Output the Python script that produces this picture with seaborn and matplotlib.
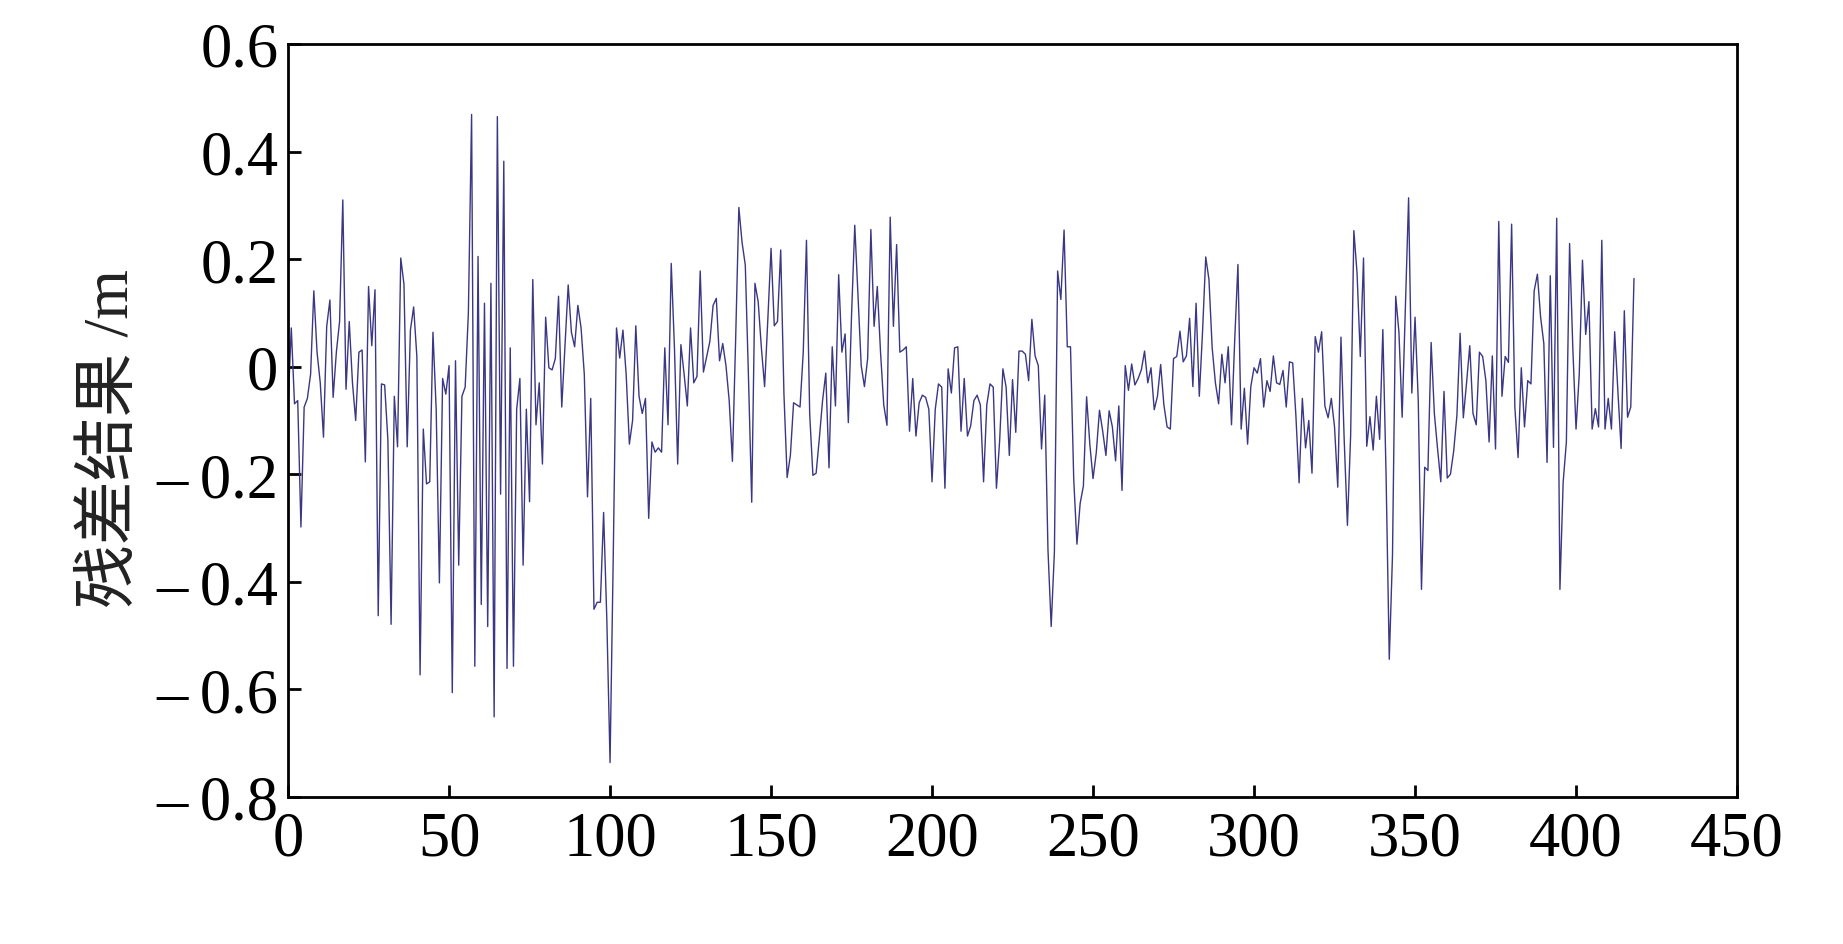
import numpy as np
import pandas as pd
import matplotlib
matplotlib.use("Agg")
import matplotlib.pyplot as plt
import seaborn as sns

# residual values (index 0..418)
residual_a = [
    -0.071, 0.072, -0.069, -0.063, -0.298, -0.075, -0.059, -0.014, 0.141, 0.027,
    -0.030, -0.131, 0.075, 0.124, -0.057, 0.027, 0.084, 0.310, -0.042, 0.084,
    -0.030, -0.100, 0.027, 0.031, -0.177, 0.149, 0.039, 0.143, -0.463, -0.032,
    -0.034, -0.136, -0.479, -0.055, -0.149, 0.202, 0.153,
]
residual_b = [
    -0.149, 0.068, 0.111, 0.019, -0.573, -0.116, -0.218, -0.214, 0.064, -0.079,
    -0.402, -0.022, -0.051, 0.002, -0.606, 0.011, -0.369, -0.055, -0.038, 0.100,
    0.469, -0.557, 0.205, -0.442, 0.118, -0.483, 0.155, -0.651, 0.465, -0.237,
    0.382, -0.561, 0.035, -0.557, -0.079, -0.022, -0.369, -0.079, -0.251,
]
residual_c = [
    0.162, -0.108, -0.030, -0.181, 0.092, -0.002, -0.006, 0.015, 0.131, -0.075,
    0.039, 0.152, 0.064, 0.037, 0.114, 0.072, -0.014, -0.242, -0.059, -0.451,
    -0.438, -0.438, -0.271, -0.471, -0.736, -0.349, 0.072, 0.016, 0.068, -0.014,
    -0.144, -0.100, 0.076, -0.055, -0.087, -0.059, -0.282,
]
residual_d = [
    -0.140, -0.159, -0.151, -0.159, 0.035, -0.108, 0.192, 0.035, -0.181, 0.041,
    -0.014, -0.073, 0.072, -0.030, -0.018, 0.178, -0.010, 0.019, 0.047, 0.114,
    0.127, 0.011, 0.043, 0.002, -0.063, -0.176, 0.050, 0.296, 0.231, 0.189,
    -0.022, -0.252, 0.155, 0.121, 0.035, -0.037, 0.088, 0.220,
]
residual_e = [
    0.076, 0.084, 0.217, -0.050, -0.206, -0.165, -0.067, -0.071, -0.075, 0.027,
    0.235, -0.088, -0.202, -0.198, -0.133, -0.063, -0.012, -0.188, 0.037, -0.073,
    0.171, 0.027, 0.061, -0.104, 0.096, 0.263, 0.132, 0.002, -0.037, 0.015,
    0.255, 0.075, 0.149, 0.027, -0.071, -0.109, 0.278, 0.075, 0.227,
]
residual_f = [
    0.027, 0.031, 0.037, -0.120, -0.022, -0.129, -0.067, -0.053, -0.057, -0.079,
    -0.214, -0.079, -0.032, -0.038, -0.226, -0.004, -0.049, 0.035, 0.037, -0.120,
    -0.022, -0.129, -0.110, -0.063, -0.053, -0.071, -0.214, -0.071, -0.032, -0.038,
    -0.226, -0.137, -0.004, -0.038, -0.165, -0.024, -0.122, 0.029,
]
residual_g = [
    0.029, 0.023, -0.026, 0.088, 0.020, 0.002, -0.153, -0.053, -0.340, -0.483,
    -0.344, 0.178, 0.125, 0.254, 0.037, 0.037, -0.209, -0.330, -0.254, -0.222,
    -0.056, -0.144, -0.208, -0.160, -0.081, -0.120, -0.165, -0.082, -0.112, -0.175,
    -0.073, -0.230, 0.002, -0.044, 0.005, -0.034, -0.022, -0.006, 0.029, -0.030,
]
residual_h = [
    -0.002, -0.080, -0.055, 0.004, -0.071, -0.112, -0.116, 0.015, 0.019, 0.066,
    0.009, 0.020, 0.090, -0.037, 0.118, -0.055, 0.064, 0.204, 0.162, 0.035,
    -0.030, -0.069, 0.023, -0.030, 0.037, -0.108, 0.050, 0.190, -0.116, -0.040,
    -0.144, -0.037, -0.002, -0.012, 0.015, -0.075, -0.026,
]
residual_i = [
    -0.046, 0.020, -0.030, -0.033, -0.007, -0.075, 0.009, 0.007, -0.091, -0.216,
    -0.059, -0.151, -0.100, -0.198, 0.056, 0.027, 0.065, -0.073, -0.095, -0.059,
    -0.112, -0.224, 0.055, -0.136, -0.295, -0.128, 0.253, 0.173, 0.019, 0.202,
    -0.148, -0.093, -0.155, -0.055, -0.135, 0.069, -0.200, -0.544,
]
residual_j = [
    -0.350, 0.131, 0.064, -0.094, 0.109, 0.314, -0.049, 0.092, -0.063, -0.414,
    -0.187, -0.193, 0.045, -0.087, -0.153, -0.214, -0.046, -0.207, -0.200, -0.157,
    -0.091, 0.062, -0.095, -0.030, 0.039, -0.087, -0.108, 0.027, 0.019, -0.026,
    -0.140, 0.020, -0.153, 0.270, -0.055, 0.019, 0.008, 0.265,
]
residual_k = [
    -0.075, -0.169, -0.002, -0.112, -0.026, -0.032, 0.141, 0.172, 0.092, 0.043,
    -0.178, 0.169, -0.150, 0.276, -0.414, -0.215, -0.140, 0.229, 0.035, -0.116,
    -0.014, 0.198, 0.060, 0.121, -0.116, -0.078, -0.112, 0.235, -0.116, -0.059,
    -0.116, 0.065, -0.046, -0.152, 0.104, -0.094, -0.075, 0.164,
]

x_ticks = [0, 50, 100, 150, 200, 250, 300, 350, 400, 450]
y_ticks = [-0.8, -0.6, -0.4, -0.2, 0.0, 0.2, 0.4, 0.6]
y_tick_labels = ["\u2013\u20090.8", "\u2013\u20090.6", "\u2013\u20090.4", "\u2013\u20090.2",
                 "0", "0.2", "0.4", "0.6"]
y_label = "残差结果 /m"

residuals = (residual_a + residual_b + residual_c + residual_d + residual_e + residual_f
             + residual_g + residual_h + residual_i + residual_j + residual_k)
epochs = list(range(len(residuals)))
df = pd.DataFrame({"epoch": epochs, "residual": residuals})

sns.set_theme(style="white")
plt.rcParams["font.family"] = ["Liberation Serif", "Noto Sans CJK SC"]
plt.rcParams["axes.unicode_minus"] = True

fig = plt.figure(figsize=(18.43, 9.45), dpi=100)
ax = fig.add_axes([0.1563, 0.1556, 0.9425 - 0.1563, 0.9524 - 0.1556])

sns.lineplot(data=df, x="epoch", y="residual", ax=ax, color="#3a3785", linewidth=1.0)

ax.set_xlim(0, 450)
ax.set_ylim(-0.8, 0.6)
ax.set_xticks(x_ticks)
ax.set_xticklabels([str(t) for t in x_ticks])
ax.set_yticks(y_ticks)
ax.set_yticklabels(y_tick_labels)

ax.tick_params(axis="both", direction="in", length=9, width=2, colors="black",
               labelsize=45, labelcolor="black")
ax.tick_params(axis="y", pad=7)
ax.tick_params(axis="x", pad=10)
ax.tick_params(top=False, right=False, bottom=True, left=True)

for s in ax.spines.values():
    s.set_visible(True)
    s.set_color("black")
    s.set_linewidth(2.0)

ax.set_xlabel("")
ax.set_ylabel(y_label, fontsize=46, color="#222222")
ax.yaxis.set_label_coords(-0.101, 0.478)
ax.grid(False)

fig.savefig("out.png", dpi=100, facecolor="white")
